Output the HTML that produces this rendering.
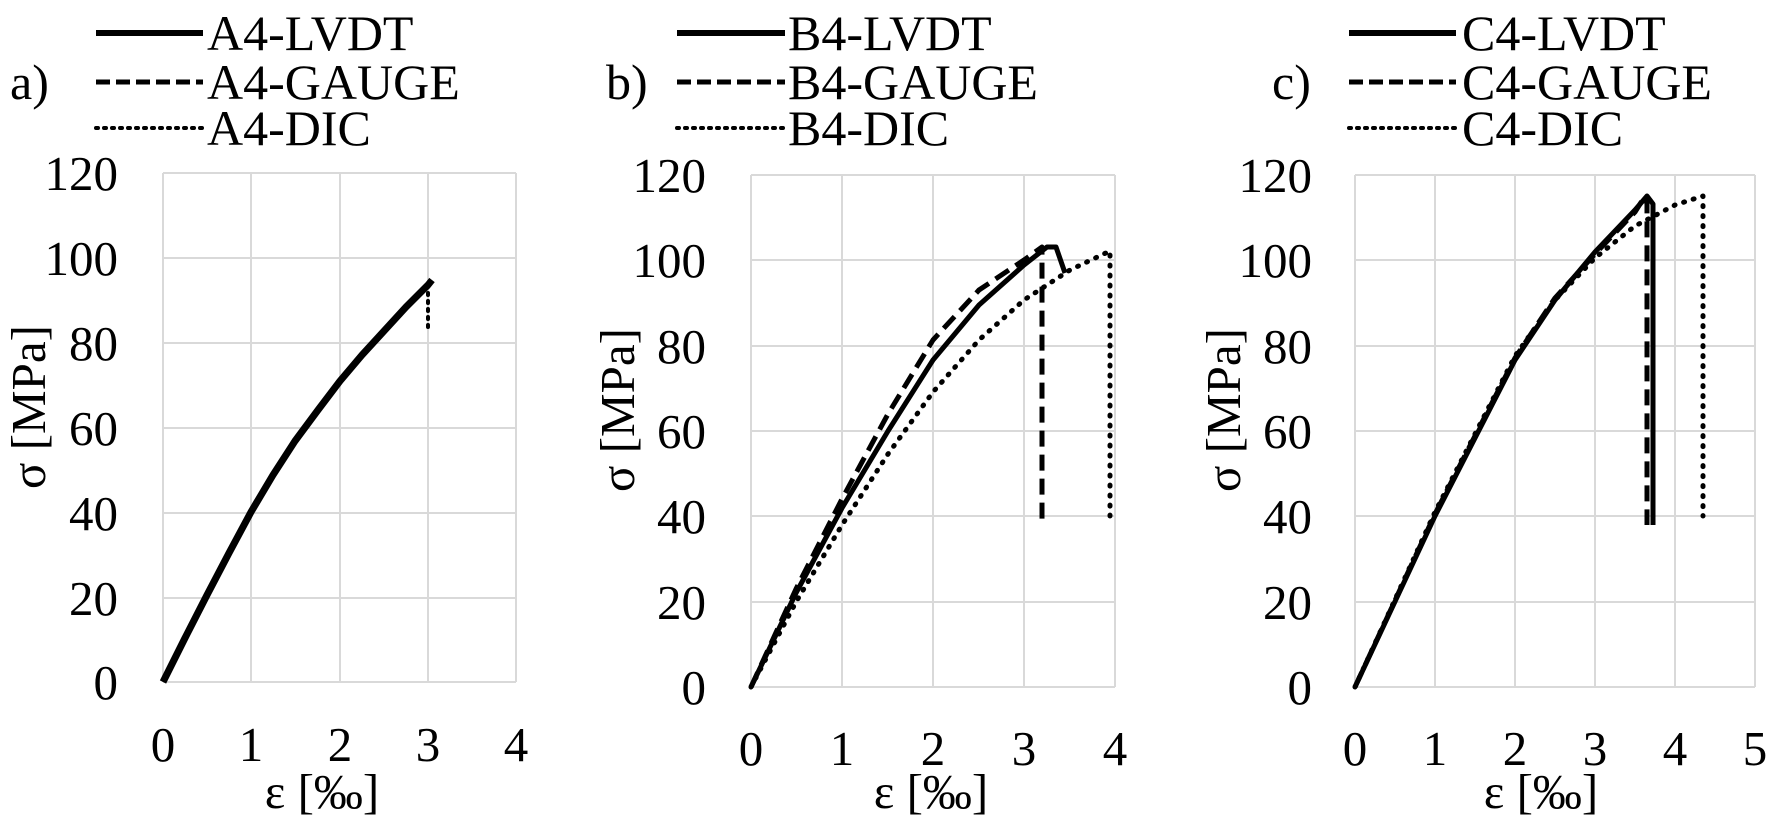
<!DOCTYPE html>
<html><head><meta charset="utf-8"><style>
html,body{margin:0;padding:0;background:#fff;}
svg{display:block;}
text{font-family:"Liberation Serif",serif;fill:#000;}
</style></head><body>
<svg width="1770" height="817" viewBox="0 0 1770 817" xmlns="http://www.w3.org/2000/svg">
<g stroke="#d9d9d9" stroke-width="2" fill="none">
<path d="M163 173H516M163 258H516M163 343H516M163 428H516M163 513H516M163 598H516M163 682H516"/>
<path d="M163 173V682M251 173V682M340 173V682M428 173V682M516 173V682"/>
<path d="M751 175H1115M751 260H1115M751 346H1115M751 431H1115M751 516H1115M751 602H1115M751 687H1115"/>
<path d="M751 175V687M842 175V687M933 175V687M1024 175V687M1115 175V687"/>
<path d="M1355 175H1755M1355 260H1755M1355 346H1755M1355 431H1755M1355 516H1755M1355 602H1755M1355 687H1755"/>
<path d="M1355 175V687M1435 175V687M1515 175V687M1595 175V687M1675 175V687M1755 175V687"/>
</g>
<g fill="none" stroke="#000" stroke-linejoin="round">
<polyline stroke-width="7" points="163,682 185,638 207,595 229,553 251,512 273,475 295,441 318,410 340,381 362,355 384,331 406,307 428,285 432,280"/>
<polyline stroke-width="4" stroke-dasharray="2,6" stroke-linecap="round" points="428,285 428,332"/>
<polyline stroke-width="5" points="751,687 796,593 842,508 888,431 933,360 979,305 1024,265 1047,247 1056,247 1065,273"/>
<polyline stroke-width="5" stroke-dasharray="16,8" points="751,687 796,589 842,499 888,414 933,340 979,290 1024,260 1042,247 1042,525"/>
<polyline stroke-width="5" stroke-dasharray="1,9" stroke-linecap="round" points="751,687 796,602 842,525 888,454 933,392 979,340 1024,300 1070,270 1110,251 1110,516"/>
<polyline stroke-width="5" points="1355,687 1435,516 1515,360 1555,300 1595,252 1635,210 1647,196 1653,204 1653,525"/>
<polyline stroke-width="5" stroke-dasharray="16,8" points="1355,687 1435,514 1515,358 1555,298 1595,254 1635,212 1645,196 1647,204 1647,525"/>
<polyline stroke-width="5" stroke-dasharray="1,9" stroke-linecap="round" points="1355,687 1435,512 1515,356 1555,300 1595,258 1635,226 1675,205 1703,196 1703,516"/>
</g>
<g stroke="#000" fill="none">
<line x1="96" y1="33" x2="203" y2="33" stroke-width="6"/>
<line x1="96" y1="82" x2="203" y2="82" stroke-width="5" stroke-dasharray="14,6"/>
<line x1="96" y1="128" x2="203" y2="128" stroke-width="4" stroke-dasharray="2,6" stroke-linecap="round"/>
<line x1="677" y1="33" x2="785" y2="33" stroke-width="6"/>
<line x1="677" y1="82" x2="785" y2="82" stroke-width="5" stroke-dasharray="14,6"/>
<line x1="677" y1="128" x2="785" y2="128" stroke-width="4" stroke-dasharray="2,6" stroke-linecap="round"/>
<line x1="1349" y1="33" x2="1456" y2="33" stroke-width="6"/>
<line x1="1349" y1="82" x2="1456" y2="82" stroke-width="5" stroke-dasharray="14,6"/>
<line x1="1349" y1="128" x2="1456" y2="128" stroke-width="4" stroke-dasharray="2,6" stroke-linecap="round"/>
</g>
<g font-size="50">
<text x="207" y="50">A4-LVDT</text><text x="207" y="99">A4-GAUGE</text><text x="207" y="145">A4-DIC</text>
<text x="788" y="50">B4-LVDT</text><text x="788" y="99">B4-GAUGE</text><text x="788" y="145">B4-DIC</text>
<text x="1462" y="50">C4-LVDT</text><text x="1462" y="99">C4-GAUGE</text><text x="1462" y="145">C4-DIC</text>
<text x="10" y="99">a)</text><text x="606" y="99">b)</text><text x="1272" y="99">c)</text>
</g>
<g font-size="49" text-anchor="end">
<text x="118" y="190">120</text><text x="118" y="275">100</text><text x="118" y="360">80</text><text x="118" y="445">60</text><text x="118" y="530">40</text><text x="118" y="615">20</text><text x="118" y="699">0</text>
<text x="706" y="192">120</text><text x="706" y="277">100</text><text x="706" y="363">80</text><text x="706" y="448">60</text><text x="706" y="533">40</text><text x="706" y="619">20</text><text x="706" y="704">0</text>
<text x="1312" y="192">120</text><text x="1312" y="277">100</text><text x="1312" y="363">80</text><text x="1312" y="448">60</text><text x="1312" y="533">40</text><text x="1312" y="619">20</text><text x="1312" y="704">0</text>
</g>
<g font-size="49" text-anchor="middle">
<text x="163" y="761">0</text><text x="251" y="761">1</text><text x="340" y="761">2</text><text x="428" y="761">3</text><text x="516" y="761">4</text>
<text x="751" y="765">0</text><text x="842" y="765">1</text><text x="933" y="765">2</text><text x="1024" y="765">3</text><text x="1115" y="765">4</text>
<text x="1355" y="765">0</text><text x="1435" y="765">1</text><text x="1515" y="765">2</text><text x="1595" y="765">3</text><text x="1675" y="765">4</text><text x="1755" y="765">5</text>
</g>
<g font-size="49" text-anchor="middle">
<text x="322" y="808">ε [‰]</text>
<text x="931" y="808">ε [‰]</text>
<text x="1541" y="808">ε [‰]</text>
<text transform="translate(45,407) rotate(-90)">σ [MPa]</text>
<text transform="translate(634,410) rotate(-90)">σ [MPa]</text>
<text transform="translate(1240,410) rotate(-90)">σ [MPa]</text>
</g>
</svg>
</body></html>
